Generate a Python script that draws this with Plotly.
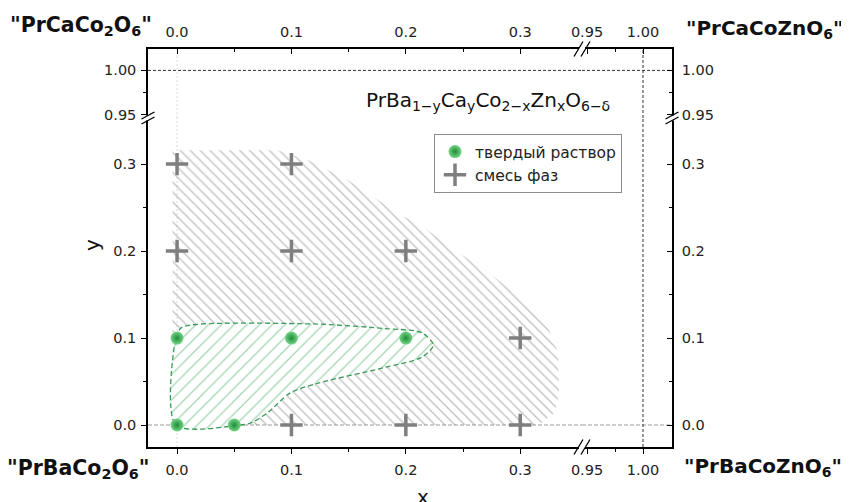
import plotly.graph_objects as go

# ---------------- data ----------------
solid_x = [0.0, 0.05, 0.0, 0.1, 0.2]
solid_y = [0.0, 0.0, 0.1, 0.1, 0.1]

mix_x = [0.0, 0.1, 0.0, 0.1, 0.2, 0.3, 0.1, 0.2, 0.3]
mix_y = [0.3, 0.3, 0.2, 0.2, 0.2, 0.1, 0.0, 0.0, 0.0]

# phase-mixture (grey hatched) region outline
mix_region_x = [-0.004, -0.004, 0.088, 0.114, 0.149, 0.172, 0.189, 0.219, 0.246,
                0.263, 0.301, 0.321, 0.333, 0.334, 0.330, 0.316, -0.004]
mix_region_y = [0.0, 0.316, 0.316, 0.305, 0.282, 0.262, 0.247, 0.224, 0.198,
                0.184, 0.147, 0.124, 0.083, 0.037, 0.014, 0.0, 0.0]

# solid-solution (green hatched) region outline
solid_region_x = [-0.001, -0.001, 0.004, 0.020, 0.123, 0.181, 0.214, 0.224, 0.214,
                  0.181, 0.123, 0.099, 0.079, 0.064, 0.055, -0.001]
solid_region_y = [0.0, 0.100, 0.112, 0.116, 0.116, 0.111, 0.106, 0.092, 0.078,
                  0.066, 0.048, 0.037, 0.014, 0.002, 0.0, 0.0]

x_lo_ticks = [0.0, 0.1, 0.2, 0.3]
x_lo_labels = ["0.0", "0.1", "0.2", "0.3"]
x_lo_minor = [0.05, 0.15, 0.25]
x_hi_ticks = [0.95, 1.00]
x_hi_labels = ["0.95", "1.00"]
x_hi_minor = [0.975]

y_lo_ticks = [0.0, 0.1, 0.2, 0.3]
y_lo_labels = ["0.0", "0.1", "0.2", "0.3"]
y_lo_minor = [0.05, 0.15, 0.25]
y_hi_ticks = [0.95, 1.00]
y_hi_labels = ["0.95", "1.00"]
y_hi_minor = [0.975]

x_lo_range = [-0.0254, 0.354]
x_hi_range = [0.9455, 1.0259]
y_lo_range = [-0.0253, 0.353]
y_hi_range = [0.9466, 1.024]

legend_solid = "твердый раствор"
legend_mix = "смесь фаз"
formula = "PrBa<sub>1−y</sub>Ca<sub>y</sub>Co<sub>2−x</sub>Zn<sub>x</sub>O<sub>6−δ</sub>"
corner_tl = '"PrCaCo<sub>2</sub>O<sub>6</sub>"'
corner_tr = '"PrCaCoZnO<sub>6</sub>"'
corner_bl = '"PrBaCo<sub>2</sub>O<sub>6</sub>"'
corner_br = '"PrBaCoZnO<sub>6</sub>"'

# ---------------- layout geometry (screen pixels of the 849x502 page) ----------------
OFF = 8                      # default body margin of the html page
FRAME_L, FRAME_R, FRAME_T, FRAME_B = 148, 672, 49, 447
W, H = 849 - OFF, 502 - OFF
L, T = FRAME_L - OFF, FRAME_T - OFF
R, B = 849 - FRAME_R, 502 - FRAME_B
PW = FRAME_R - FRAME_L
PH = FRAME_B - FRAME_T
XS = (582 - FRAME_L) / PW          # x break position (paper)
YS = (FRAME_B - 118) / PH          # y break position (paper)

FONT = "'DejaVu Sans', sans-serif"
GREEN_LINE = "#3a9a58"

fig = go.Figure()

# grey hatched region
fig.add_trace(go.Scatter(
    x=mix_region_x, y=mix_region_y, mode="lines", fill="toself",
    line=dict(width=0, color="rgba(0,0,0,0)"),
    fillcolor="rgba(255,255,255,0)",
    fillpattern=dict(shape="\\", size=7, solidity=0.2, fgcolor="#888888",
                     bgcolor="rgba(255,255,255,0)"),
    showlegend=False, hoverinfo="skip", xaxis="x", yaxis="y"))

# green hatched region
fig.add_trace(go.Scatter(
    x=solid_region_x, y=solid_region_y, mode="lines", fill="toself",
    line=dict(width=1.3, color=GREEN_LINE, dash="5px,3px", shape="spline", smoothing=0.8),
    fillcolor="white",
    fillpattern=dict(shape="/", size=9, solidity=0.15, fgcolor="#4fae6a", bgcolor="white"),
    showlegend=False, hoverinfo="skip", xaxis="x", yaxis="y"))

# points
fig.add_trace(go.Scatter(
    x=solid_x, y=solid_y, mode="markers", name=legend_solid,
    marker=dict(size=13, color="#74d586", gradient=dict(type="radial", color="#1f8a38"),
                line=dict(width=0)),
    xaxis="x", yaxis="y"))
fig.add_trace(go.Scatter(
    x=mix_x, y=mix_y, mode="markers", name=legend_mix,
    marker=dict(size=16, symbol="cross-thin", line=dict(width=3.5, color="#7f7f7f"),
                color="#7f7f7f"),
    xaxis="x", yaxis="y"))

# dummy traces so that every panel / mirrored axis gets drawn
for xa, ya in [("x2", "y2"), ("x3", "y2"), ("x4", "y2"), ("x2", "y3"), ("x2", "y4")]:
    fig.add_trace(go.Scatter(x=[None], y=[None], mode="markers", showlegend=False,
                             hoverinfo="skip", xaxis=xa, yaxis=ya))


def ax(rng, ticks, labels, minor, side_ticks, **kw):
    d = dict(range=rng, tickvals=ticks, ticktext=labels, showline=True, linecolor="black",
             linewidth=1.5, showgrid=False, zeroline=False, ticks=side_ticks, ticklen=5,
             tickwidth=1.2, tickcolor="black",
             tickfont=dict(size=14.5, color="#222", family=FONT),
             minor=dict(tickvals=minor, ticks=side_ticks, ticklen=3, tickwidth=1.2,
                        tickcolor="black", showgrid=False),
             fixedrange=True)
    d.update(kw)
    return d


fig.update_layout(
    width=W, height=H, margin=dict(l=L, r=R, t=T, b=B, autoexpand=False),
    paper_bgcolor="white", plot_bgcolor="white",
    font=dict(family=FONT, color="#222"),
    xaxis=ax(x_lo_range, x_lo_ticks, x_lo_labels, x_lo_minor, "outside",
             domain=[0, XS], anchor="y", side="bottom", ticklabelstandoff=4),
    xaxis2=ax(x_hi_range, x_hi_ticks, x_hi_labels, x_hi_minor, "outside",
              domain=[XS, 1], anchor="y", side="bottom", ticklabelstandoff=4),
    xaxis3=ax(x_lo_range, x_lo_ticks, x_lo_labels, x_lo_minor, "inside",
              overlaying="x", anchor="y2", side="top", ticklabelstandoff=4),
    xaxis4=ax(x_hi_range, x_hi_ticks, x_hi_labels, x_hi_minor, "inside",
              overlaying="x2", anchor="y2", side="top", ticklabelstandoff=4),
    yaxis=ax(y_lo_range, y_lo_ticks, y_lo_labels, y_lo_minor, "outside",
             domain=[0, YS], anchor="x", side="left", ticklabelstandoff=2),
    yaxis2=ax(y_hi_range, y_hi_ticks, y_hi_labels, y_hi_minor, "outside",
              domain=[YS, 1], anchor="x", side="left", ticklabelstandoff=2),
    yaxis3=ax(y_lo_range, y_lo_ticks, y_lo_labels, y_lo_minor, "inside",
              overlaying="y", anchor="x2", side="right", ticklabelstandoff=5),
    yaxis4=ax(y_hi_range, y_hi_ticks, y_hi_labels, y_hi_minor, "inside",
              overlaying="y2", anchor="x2", side="right", ticklabelstandoff=5),
    legend=dict(x=(434 - FRAME_L) / PW, y=(FRAME_B - 134) / PH, xanchor="left", yanchor="top",
                bordercolor="#8c8c8c", borderwidth=1, bgcolor="white",
                font=dict(size=15.5, color="#222", family=FONT), tracegroupgap=0,
                itemwidth=30),
    showlegend=True,
)

# reference lines (one segment per panel)
DASH_GREY = dict(color="#9a9a9a", width=1, dash="4px,2px")
DOT_LIGHT = dict(color="#d9d9d9", width=1, dash="2px,2px")
DASH_DARK = dict(color="#333", width=1, dash="3px,2px")
shapes = []
for xr, rng in (("x", x_lo_range), ("x2", x_hi_range)):
    shapes.append(dict(type="line", xref=xr, yref="y", x0=rng[0], x1=rng[1], y0=0, y1=0,
                       line=DASH_GREY, layer="below"))
    shapes.append(dict(type="line", xref=xr, yref="y2", x0=rng[0], x1=rng[1], y0=1.0, y1=1.0,
                       line=DASH_DARK, layer="below"))
for yr, rng in (("y", y_lo_range), ("y2", y_hi_range)):
    shapes.append(dict(type="line", xref="x", yref=yr, x0=0, x1=0, y0=rng[0], y1=rng[1],
                       line=DOT_LIGHT, layer="below"))
    shapes.append(dict(type="line", xref="x2", yref=yr, x0=1.0, x1=1.0, y0=rng[0], y1=rng[1],
                       line=DASH_DARK, layer="below"))


def px2paper(dx, dy):
    return dx / PW, dy / PH


# axis break marks
for yb in (0.0, 1.0):
    gx, gy = px2paper(3, 4)
    shapes.append(dict(type="rect", xref="paper", yref="paper", x0=XS - gx, x1=XS + gx,
                       y0=yb - gy, y1=yb + gy, fillcolor="white", line=dict(width=0),
                       layer="above"))
    for off in (-3.5, 3.5):
        a0x, a0y = px2paper(off - 4.5, -7.5)
        a1x, a1y = px2paper(off + 4.5, 7.5)
        shapes.append(dict(type="line", xref="paper", yref="paper", x0=XS + a0x, y0=yb + a0y,
                           x1=XS + a1x, y1=yb + a1y, line=dict(color="black", width=1.3),
                           layer="above"))
for xb in (0.0, 1.0):
    gx, gy = px2paper(4, 2.5)
    shapes.append(dict(type="rect", xref="paper", yref="paper", x0=xb - gx, x1=xb + gx,
                       y0=YS - gy, y1=YS + gy, fillcolor="white", line=dict(width=0),
                       layer="above"))
    for off in (-2.5, 2.5):
        a0x, a0y = px2paper(-6.5, off - 3.5)
        a1x, a1y = px2paper(6.5, off + 3.5)
        shapes.append(dict(type="line", xref="paper", yref="paper", x0=xb + a0x, y0=YS + a0y,
                           x1=xb + a1x, y1=YS + a1y, line=dict(color="black", width=1.3),
                           layer="above"))
fig.update_layout(shapes=shapes)


def ann(text, px, py, size, xanchor="center", yanchor="middle", bold=False, angle=0):
    return dict(text=f"<b>{text}</b>" if bold else text, xref="paper", yref="paper",
                x=(px - FRAME_L) / PW, y=(FRAME_B - py) / PH, xanchor=xanchor, yanchor=yanchor,
                showarrow=False, textangle=angle,
                font=dict(size=size, color="#111", family=FONT))


fig.update_layout(annotations=[
    ann(formula, 488, 101, 20),
    ann(corner_tl, 154, 26, 20.5, xanchor="right", bold=True),
    ann(corner_tr, 684, 29, 20, xanchor="left", bold=True),
    ann(corner_bl, 152, 469, 20.5, xanchor="right", bold=True),
    ann(corner_br, 682, 467, 20, xanchor="left", bold=True),
    ann("x", 423, 483, 20, yanchor="top"),
    ann("y", 92, 245, 20, angle=-90),
])

fig.write_html("out.html")
